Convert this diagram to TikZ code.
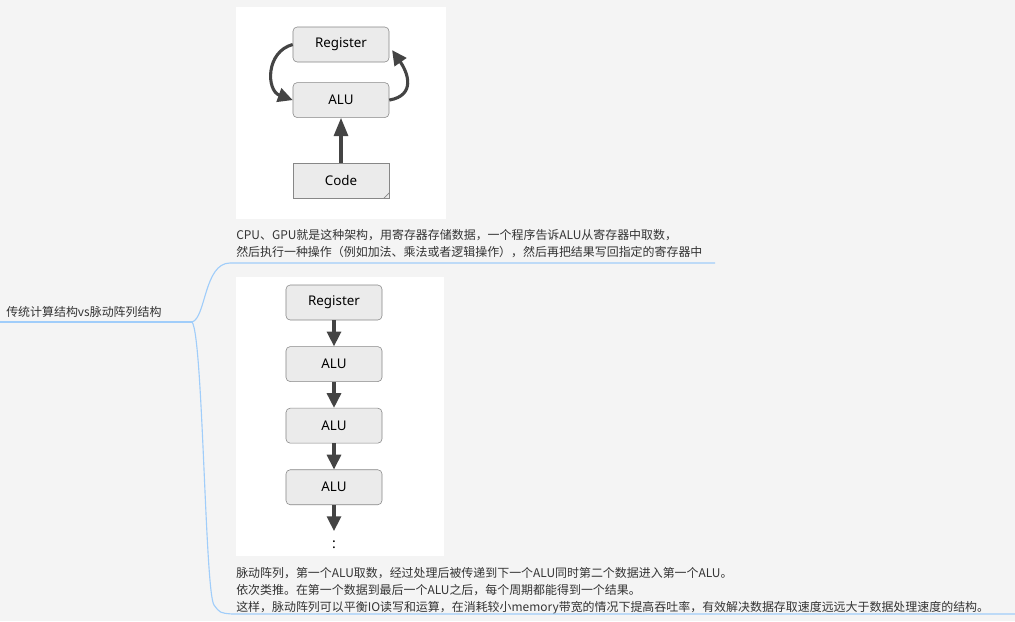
\documentclass[tikz,border=0pt]{standalone}
\usepackage{fontspec}
\newfontfamily\cjk{Noto Sans CJK SC}
\newfontfamily\labelfont{Noto Sans}
\usetikzlibrary{arrows.meta, positioning}
\definecolor{pagecolor}{RGB}{244,244,244}
\definecolor{linecolor}{RGB}{160,205,250}
\definecolor{boxcolor}{RGB}{235,235,235}
\definecolor{edgecolor}{RGB}{135,135,135}
\definecolor{arrowcolor}{RGB}{68,68,68}
\definecolor{textcolor}{RGB}{51,51,51}

\begin{document}
\begin{tikzpicture}[x=0.025cm, y=-0.025cm,
    unit/.style={rectangle, draw=edgecolor, fill=boxcolor, rounded corners=3pt, minimum width=2.4cm, minimum height=0.875cm, inner sep=0pt, font=\labelfont\fontsize{9.5}{11}\selectfont},
    codebox/.style={rectangle, draw=edgecolor, fill=boxcolor, minimum width=2.4cm, minimum height=0.875cm, inner sep=0pt, font=\labelfont\fontsize{9.5}{11}\selectfont},
    note/.style={align=left, inner sep=0pt, text=textcolor, font=\cjk\fontsize{8.5}{12}\selectfont},
    flow/.style={draw=arrowcolor, line width=2.2pt, -{Triangle[length=10.5pt, width=10pt]}},
    bigflow/.style={draw=arrowcolor, line width=2.2pt, -{Triangle[length=13pt, width=10pt]}},
    branch/.style={draw=linecolor, line width=0.8pt},
    panel/.style={fill=white}
]
% page and white picture panels
\useasboundingbox[fill=pagecolor] (0,0) rectangle (1015,621);
\fill[panel] (236,7) rectangle (446,219);
\fill[panel] (236,277) rectangle (444,556);

% traditional structure
\node[unit] (reg) at (341,44.5) {Register};
\node[unit, below=0.5cm of reg] (alu) {ALU};
\node[codebox, below=1.125cm of alu] (code) {Code};
\draw[edgecolor] ([xshift=-4pt]code.south east) -- ([yshift=4pt]code.south east);
\draw[bigflow] (code) -- (alu);
\draw[flow] (reg.west) to[out=195, in=160, looseness=1.3] (alu.west);
\draw[flow] (alu.east) to[out=10, in=-55, looseness=1.4] ([xshift=2pt, yshift=-4pt]reg.east);

% systolic array
\node[unit] (reg2) at (334,302.5) {Register};
\node[unit, below=0.65cm of reg2] (alu1) {ALU};
\node[unit, below=0.65cm of alu1] (alu2) {ALU};
\node[unit, below=0.65cm of alu2] (alu3) {ALU};
\coordinate[below=0.65cm of alu3] (tail);
\node[font=\labelfont\fontsize{10}{12}\selectfont, text=black] (dots) at (334,545) {:};
\draw[flow] (reg2) -- (alu1);
\draw[flow] (alu1) -- (alu2);
\draw[flow] (alu2) -- (alu3);
\draw[flow] (alu3) -- (tail);

% mind map texts
\node[note, anchor=west] (root) at (6,312) {传统计算结构vs脉动阵列结构};
\node[note, anchor=north west] (noteA) at (236,229) {CPU、GPU就是这种架构，用寄存器存储数据，一个程序告诉ALU从寄存器中取数，\\然后执行一种操作（例如加法、乘法或者逻辑操作），然后再把结果写回指定的寄存器中};
\node[note, anchor=north west] (noteB) at (236,567) {脉动阵列，第一个ALU取数，经过处理后被传递到下一个ALU同时第二个数据进入第一个ALU。\\依次类推。在第一个数据到最后一个ALU之后，每个周期都能得到一个结果。\\这样，脉动阵列可以平衡IO读写和运算，在消耗较小memory带宽的情况下提高吞吐率，有效解决数据存取速度远远大于数据处理速度的结构。};

% branches
\coordinate (rootL) at (0,322);
\coordinate (fork) at (192,322);
\coordinate (topL) at (230,263);
\coordinate (topR) at (715,263);
\coordinate (botL) at (232,614);
\coordinate (botR) at (1015,614);
\draw[branch] (rootL) -- (fork);
\draw[branch] (fork) .. controls (206,318) and (204,263) .. (topL) -- (topR);
\draw[branch] (fork) .. controls (203,335) and (205,592) .. (214,605) .. controls (220,613) .. (botL) -- (botR);
\end{tikzpicture}
\end{document}
